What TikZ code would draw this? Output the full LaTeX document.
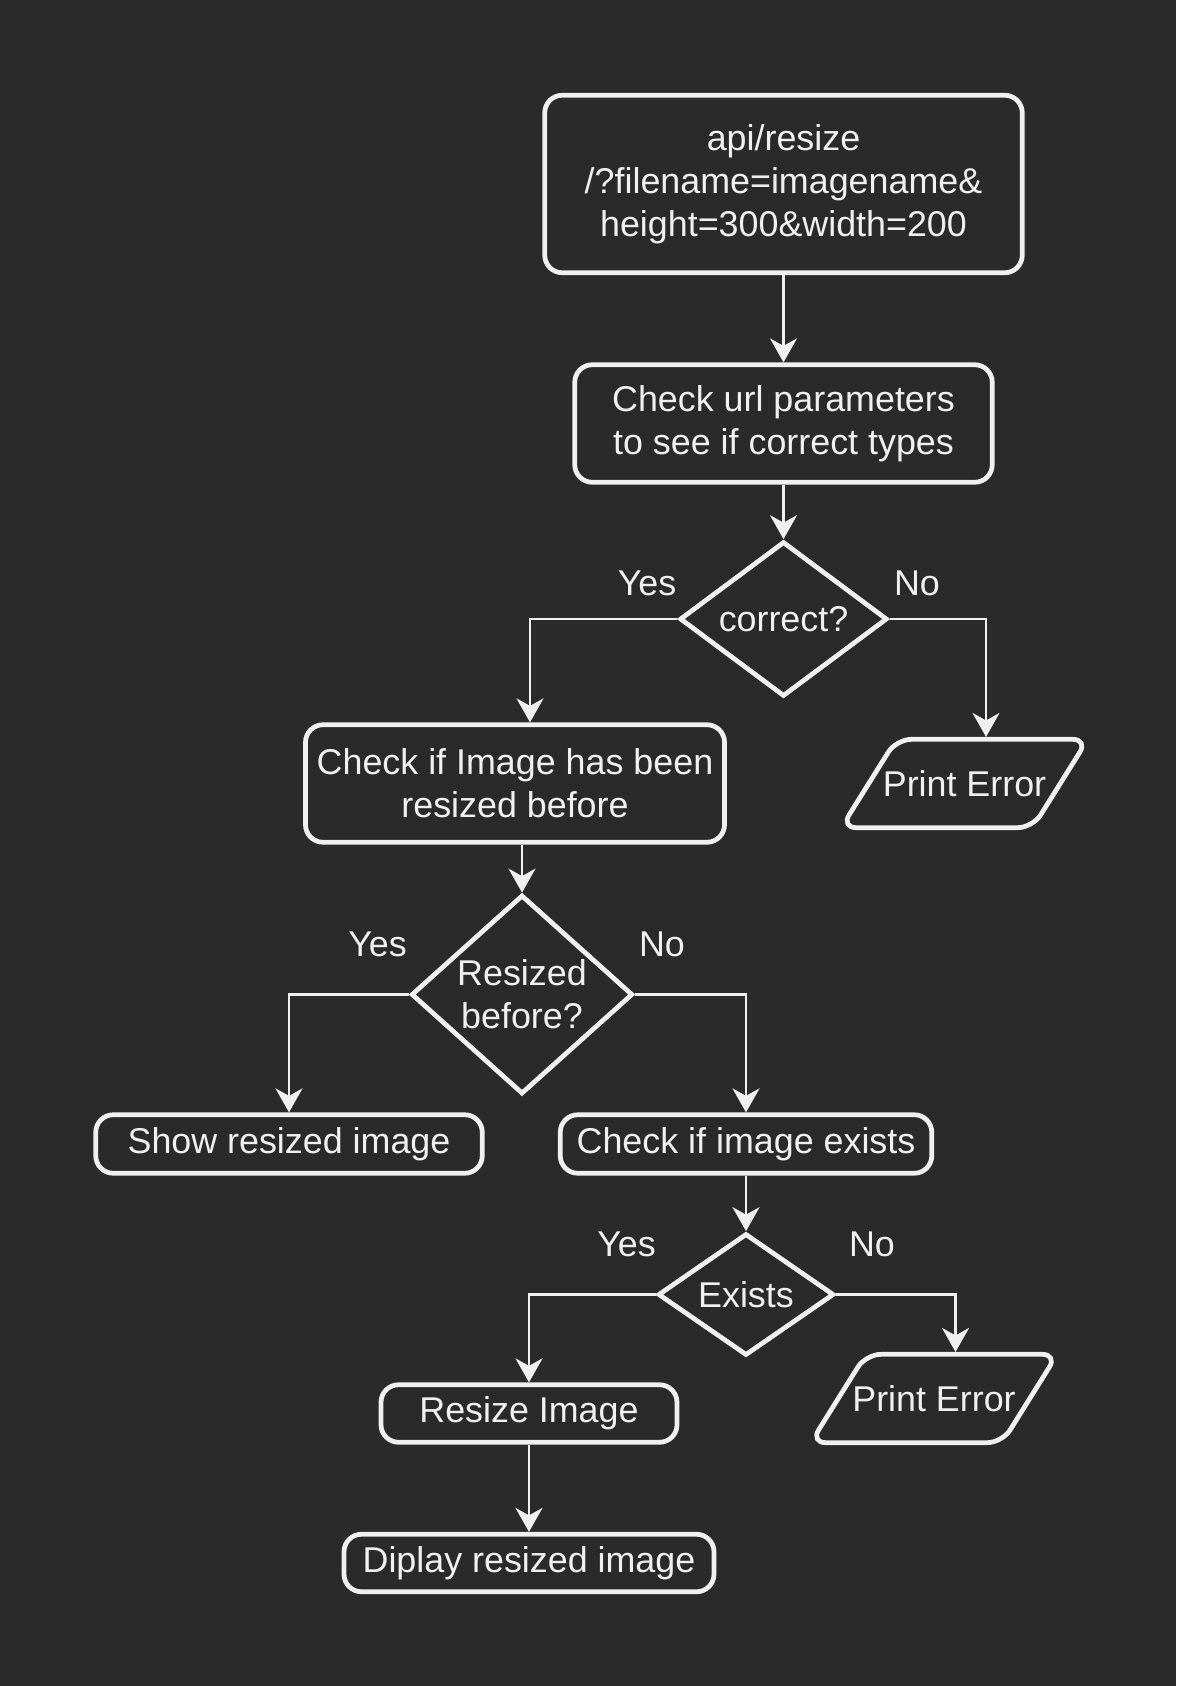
\documentclass[tikz,border=0pt]{standalone}
\usepackage{fontspec}
\setmainfont{Liberation Sans}
\usepackage{tikz}
\usetikzlibrary{arrows.meta, calc, positioning, shapes.geometric}
\usepackage{xcolor}
\definecolor{bgdark}{HTML}{2A2A2A}
\definecolor{fgline}{HTML}{F0F0F0}

\begin{document}
\begin{tikzpicture}[
    every node/.style={text=fgline, font=\fontsize{20.4}{24.6}\selectfont},
    process/.style={rectangle, draw=fgline, rounded corners=0.35cm, align=center, line width=2.7pt, inner sep=0pt},
    decision/.style={diamond, draw=fgline, align=center, line width=2.7pt, inner sep=0pt},
    output/.style={trapezium, trapezium left angle=58, trapezium right angle=122, draw=fgline, rounded corners=0.3cm, line width=2.7pt, inner xsep=-0.27cm, inner ysep=0.62cm},
    answer/.style={inner sep=1pt},
    arrow/.style={-{Stealth[length=0.48cm, width=0.54cm, inset=0.15cm]}, draw=fgline, line width=1.45pt}
]
    % background
    \fill[bgdark] (0,0) rectangle (23.52,-33.72);
    \useasboundingbox (0,0) rectangle (23.52,-33.72);

    % request and parameter check
    \node[process, minimum width=9.55cm, minimum height=3.55cm] (request) at (15.67,-3.68) {api/resize\\/?filename=imagename\&\\height=300\&width=200};
    \node[process, minimum width=8.35cm, minimum height=2.35cm] (params) at (15.67,-8.47) {Check url parameters\\to see if correct types};
    \node[decision, minimum width=4.15cm, minimum height=2.92cm] (correct) at (15.67,-12.38) {correct?};
    \node[answer] (yescorrect) at (12.94,-11.67) {Yes};
    \node[answer] (nocorrect) at (18.34,-11.67) {No};

    % cache check
    \node[process, minimum width=8.38cm, minimum height=2.35cm] (cached) at (10.30,-15.67) {Check if Image has been\\resized before};
    \node[output] (error1) at (19.29,-15.67) {Print Error};
    \node[decision, minimum width=4.43cm, minimum height=3.5cm] (resized) at (10.44,-19.89) {Resized\\before?};
    \node[answer] (yesresized) at (7.55,-18.88) {Yes};
    \node[answer] (noresized) at (13.24,-18.88) {No};

    % existence check
    \node[process, minimum width=7.73cm, minimum height=1.17cm] (showimg) at (5.78,-22.88) {Show resized image};
    \node[process, minimum width=7.43cm, minimum height=1.17cm] (exists) at (14.92,-22.88) {Check if image exists};
    \node[decision, minimum width=3.52cm, minimum height=2.32cm] (found) at (14.92,-25.89) {Exists};
    \node[answer] (yesfound) at (12.53,-24.88) {Yes};
    \node[answer] (nofound) at (17.44,-24.88) {No};

    % resize and display
    \node[process, minimum width=5.92cm, minimum height=1.15cm] (resize) at (10.58,-28.27) {Resize Image};
    \node[output] (error2) at (18.68,-27.97) {Print Error};
    \node[process, minimum width=7.40cm, minimum height=1.15cm] (display) at (10.58,-31.26) {Diplay resized image};

    % connectors
    \draw[arrow] (request) -- (params);
    \draw[arrow] (params) -- (correct);
    \draw[arrow] (correct.west) -| ([xshift=0.3cm]cached.north);
    \draw[arrow] (correct.east) -| ([xshift=0.43cm]error1.north);
    \draw[arrow] (cached.south -| resized.north) -- (resized.north);
    \draw[arrow] (resized.west) -| (showimg.north);
    \draw[arrow] (resized.east) -| (exists.north);
    \draw[arrow] (exists) -- (found);
    \draw[arrow] (found.west) -| (resize.north);
    \draw[arrow] (found.east) -| ([xshift=0.43cm]error2.north);
    \draw[arrow] (resize) -- (display);
\end{tikzpicture}
\end{document}
